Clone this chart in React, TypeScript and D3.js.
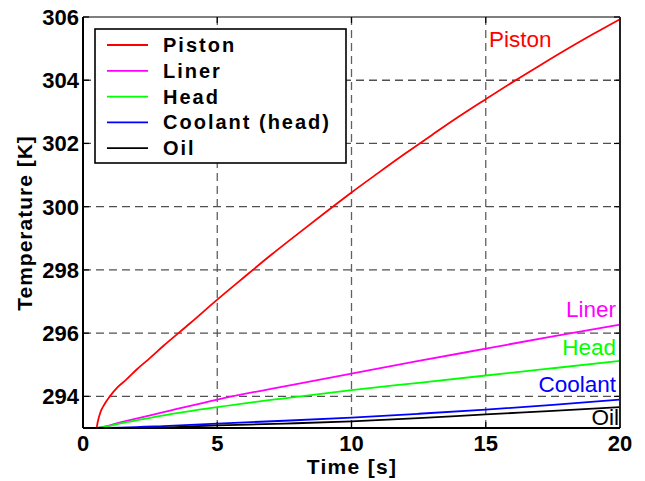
import React from "react";
import * as d3 from "d3";

const seriesNames = ["Piston", "Liner", "Head", "Coolant (head)", "Oil"];
const seriesColors = ["#ff0000", "#ff00ff", "#00ff00", "#0000ff", "#000000"];

const pistonT = [0, 0.5, 0.55, 0.65, 0.8, 1.0, 1.3, 1.6, 2.0, 2.5, 3, 4, 5, 6, 7, 8, 9, 10, 11, 12, 13, 14, 15, 16, 17, 18, 19, 20];
const pistonV = [293, 293, 293.2, 293.5, 293.75, 294.0, 294.3, 294.52, 294.85, 295.22, 295.6, 296.32, 297.06, 297.77, 298.47, 299.14, 299.8, 300.45, 301.07, 301.68, 302.27, 302.85, 303.4, 303.94, 304.46, 304.97, 305.46, 305.93];

const linerT = [0, 0.45, 1.5, 3, 5, 7.5, 10, 12.5, 15, 17.5, 20];
const linerV = [293, 293, 293.2, 293.5, 293.9, 294.32, 294.72, 295.12, 295.51, 295.9, 296.27];

const headT = [0, 0.45, 1.5, 3, 5, 7.5, 10, 12.5, 15, 17.5, 20];
const headV = [293, 293, 293.16, 293.4, 293.66, 293.94, 294.2, 294.43, 294.66, 294.89, 295.12];

const coolantT = [0, 0.5, 3, 5, 7.5, 10, 12.5, 15, 17.5, 20];
const coolantV = [293, 293, 293.06, 293.14, 293.23, 293.33, 293.45, 293.58, 293.73, 293.9];

const oilT = [0, 2, 5, 7.5, 10, 12.5, 15, 17.5, 20];
const oilV = [293, 293, 293.08, 293.14, 293.21, 293.31, 293.43, 293.54, 293.66];

const xTicks = [0, 5, 10, 15, 20];
const yTicks = [294, 296, 298, 300, 302, 304, 306];
const endLabels = ["Piston", "Liner", "Head", "Coolant", "Oil"];

const W = 645, H = 481;
const L = 83, R = 620, T = 17, B = 428;
const FONT = "'Liberation Sans', Arial, Helvetica, sans-serif";

export default function App() {
  const x = d3.scaleLinear().domain([0, 20]).range([L, R]);
  const y = d3.scaleLinear().domain([293, 306]).range([B, T]);
  const line = d3
    .line<[number, number]>()
    .x((d) => x(d[0]))
    .y((d) => y(d[1]))
    .curve(d3.curveMonotoneX);
  const series: [number[], number[]][] = [
    [pistonT, pistonV],
    [linerT, linerV],
    [headT, headV],
    [coolantT, coolantV],
    [oilT, oilV],
  ];
  const paths = series.map(([ts, vs]) => line(ts.map((t, i) => [t, vs[i]] as [number, number])) || "");

  const labelPos: { x: number; y: number; anchor: string }[] = [
    { x: 489, y: 47, anchor: "start" },
    { x: 616, y: 317, anchor: "end" },
    { x: 616, y: 355, anchor: "end" },
    { x: 616, y: 392, anchor: "end" },
    { x: 619, y: 425, anchor: "end" },
  ];

  return (
    <svg width={W} height={H} style={{ position: "absolute", left: 0, top: 0, background: "#fff" }} fontFamily={FONT}>
      <rect x={0} y={0} width={W} height={H} fill="#fff" />
      {xTicks.filter((t) => t > 0 && t < 20).map((t) => (
        <line key={"gx" + t} x1={x(t)} x2={x(t)} y1={T} y2={B} stroke="#606060" strokeWidth={1.3} strokeDasharray="8,5" />
      ))}
      {yTicks.filter((t) => t < 306).map((t) => (
        <line key={"gy" + t} x1={L} x2={R} y1={y(t)} y2={y(t)} stroke="#505050" strokeWidth={1.3} strokeDasharray="8,5" />
      ))}
      {yTicks.map((t) => (
        <g key={"ty" + t}>
          <line x1={L} x2={L + 6} y1={y(t)} y2={y(t)} stroke="#000" strokeWidth={1.2} />
          <line x1={R - 6} x2={R} y1={y(t)} y2={y(t)} stroke="#000" strokeWidth={1.2} />
        </g>
      ))}
      {xTicks.map((t) => (
        <g key={"tx" + t}>
          <line x1={x(t)} x2={x(t)} y1={B} y2={B - 6} stroke="#000" strokeWidth={1.2} />
          <line x1={x(t)} x2={x(t)} y1={T} y2={T + 6} stroke="#000" strokeWidth={1.2} />
        </g>
      ))}
      {paths.map((p, i) => (
        <path key={"p" + i} d={p} fill="none" stroke={seriesColors[i]} strokeWidth={1.8} />
      ))}
      <line x1={L} x2={R} y1={T} y2={T} stroke="#000" strokeWidth={1.2} />
      <line x1={R} x2={R} y1={T} y2={B} stroke="#222" strokeWidth={2} />
      <line x1={L} x2={L} y1={T} y2={B} stroke="#000" strokeWidth={2} />
      <line x1={L} x2={R} y1={B} y2={B} stroke="#000" strokeWidth={2} />
      {endLabels.map((s, i) => (
        <text key={"el" + i} x={labelPos[i].x} y={labelPos[i].y} textAnchor={labelPos[i].anchor as any} fontSize={22.5} fill={seriesColors[i]}>
          {s}
        </text>
      ))}
      {yTicks.map((t) => (
        <text key={"yl" + t} x={79} y={y(t) + 8} textAnchor="end" fontSize={22} fontWeight="bold">
          {t}
        </text>
      ))}
      {xTicks.map((t) => (
        <text key={"xl" + t} x={x(t)} y={451} textAnchor="middle" fontSize={22} fontWeight="bold">
          {t}
        </text>
      ))}
      <text x={352} y={474} textAnchor="middle" fontSize={21} fontWeight="bold" letterSpacing={1.3}>
        Time [s]
      </text>
      <text transform="translate(32,223) rotate(-90)" textAnchor="middle" fontSize={21} fontWeight="bold" letterSpacing={1}>
        Temperature [K]
      </text>
      <rect x={95} y={29} width={251} height={134} fill="#fff" stroke="#000" strokeWidth={1.6} />
      {seriesNames.map((n, i) => {
        const yy = 45 + i * 25.8;
        return (
          <g key={"lg" + i}>
            <line x1={107} x2={148} y1={yy} y2={yy} stroke={seriesColors[i]} strokeWidth={1.8} />
            <text x={163} y={yy + 7} fontSize={20} fontWeight="bold" letterSpacing={2}>
              {n}
            </text>
          </g>
        );
      })}
    </svg>
  );
}
